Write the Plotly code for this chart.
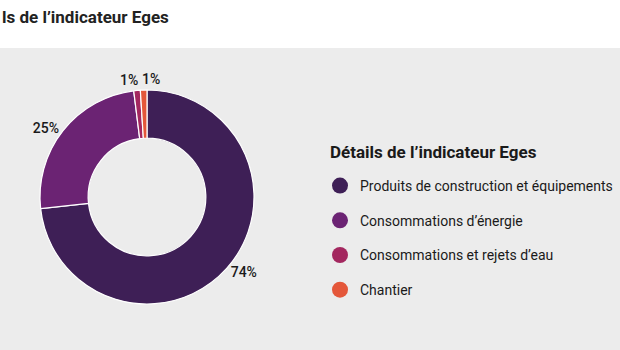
import math
import plotly.graph_objects as go

categories = [
    "Produits de construction et équipements",
    "Consommations d’énergie",
    "Consommations et rejets d’eau",
    "Chantier",
]
values = [74, 25, 1, 1]
colors = ["#3e1f56", "#6b2373", "#a3275f", "#e4573a"]
title_text = "ls de l’indicateur Eges"
legend_title = "Détails de l’indicateur Eges"

W, H = 620, 350
FONT = "Roboto"

# pie geometry (pixels)
CX, CY, R = 147, 197, 107
total = sum(values)
small = [v / total < 0.05 for v in values]

fig = go.Figure()
fig.add_trace(go.Pie(
    labels=categories,
    values=values,
    sort=False,
    direction="clockwise",
    rotation=0,
    hole=0.55,
    marker=dict(colors=colors, line=dict(color="white", width=1.2)),
    textposition=["none" if s else "outside" for s in small],
    texttemplate="%{value}%",
    textfont=dict(family=FONT, size=14, color="#1a1a1a", weight=500),
    showlegend=False,
    hoverinfo="label+percent",
    domain=dict(x=[(CX - R) / W, (CX + R) / W], y=[(H - CY - R) / H, (H - CY + R) / H]),
))

# labels for tiny slices, placed outside at the slice's mid angle and spread apart
lab = []
cum = 0
for v, s in zip(values, small):
    mid = (cum + v / 2) / total * 2 * math.pi
    cum += v
    if s:
        rl = R + 11
        lab.append([CX + rl * math.sin(mid), CY - rl * math.cos(mid), f"{v}%"])
lab.sort(key=lambda t: t[0])
LW = 22
for i in range(1, len(lab)):
    d = lab[i][0] - lab[i - 1][0]
    if d < LW:
        sh = (LW - d) / 2
        lab[i - 1][0] -= sh
        lab[i][0] += sh

annotations = [dict(text="<b>" + title_text + "</b>", x=0, y=1 - 17 / H,
                    xref="paper", yref="paper", xanchor="left", yanchor="middle",
                    showarrow=False, font=dict(family=FONT, size=17, color="#222222")),
               dict(text="<b>" + legend_title + "</b>", x=328 / W, y=1 - 152 / H,
                    xref="paper", yref="paper", xanchor="left", yanchor="middle",
                    showarrow=False, font=dict(family=FONT, size=17, color="#1a1a1a"))]
for x, y, t in lab:
    annotations.append(dict(text=t, x=x / W, y=1 - y / H, xref="paper", yref="paper",
                            xanchor="center", yanchor="middle", showarrow=False,
                            font=dict(family=FONT, size=14, color="#1a1a1a", weight=500)))

for cat, col in zip(categories, colors):
    fig.add_trace(go.Scatter(
        x=[None], y=[None], mode="markers", name=cat,
        marker=dict(color=col, size=18, symbol="circle"),
        legendgroup=cat, showlegend=True,
    ))

fig.update_layout(
    width=W, height=H,
    margin=dict(l=0, r=0, t=0, b=0),
    paper_bgcolor="white",
    plot_bgcolor="rgba(0,0,0,0)",
    xaxis=dict(visible=False),
    yaxis=dict(visible=False),
    font=dict(family=FONT, color="#1a1a1a"),
    shapes=[dict(type="rect", xref="paper", yref="paper", x0=0, x1=1,
                 y0=0, y1=(H - 48) / H, fillcolor="#ececec",
                 line=dict(width=0), layer="below")],
    annotations=annotations,
    legend=dict(
        x=320 / W, xanchor="left", y=1 - 170 / H, yanchor="top",
        bgcolor="rgba(0,0,0,0)",
        font=dict(family=FONT, size=14, color="#1a1a1a"),
        traceorder="grouped", tracegroupgap=13.5,
    ),
)

fig.write_html("out.html")
